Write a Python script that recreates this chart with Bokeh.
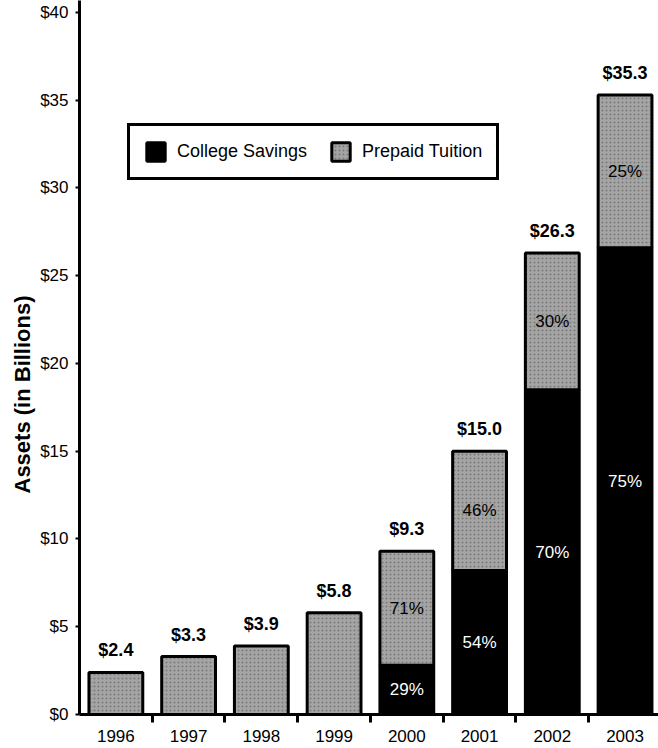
from bokeh.plotting import figure
from bokeh.models import (ColumnDataSource, FixedTicker, Legend, LegendItem, Range1d, Title)
from bokeh.core.properties import value
from bokeh.embed import file_html
from bokeh.resources import INLINE

# ---- data ----
years = ["1996", "1997", "1998", "1999", "2000", "2001", "2002", "2003"]
college_savings = [0.0, 0.0, 0.0, 0.0, 2.8, 8.2, 18.5, 26.6]
prepaid_tuition = [2.4, 3.3, 3.9, 5.8, 6.5, 6.8, 7.8, 8.7]
totals = [2.4, 3.3, 3.9, 5.8, 9.3, 15.0, 26.3, 35.3]
savings_pct = ["", "", "", "", "29%", "54%", "70%", "75%"]
prepaid_pct = ["", "", "", "", "71%", "46%", "30%", "25%"]
y_ticks = [0, 5, 10, 15, 20, 25, 30, 35, 40]
y_tick_labels = ["$0", "$5", "$10", "$15", "$20", "$25", "$30", "$35", "$40"]

FONT = "Liberation Sans"
GRAY = "#a5a5a5"

xs = list(range(1, len(years) + 1))
src = ColumnDataSource(dict(
    x=xs,
    sav_top=college_savings,
    pre_bottom=college_savings,
    pre_top=[s + p for s, p in zip(college_savings, prepaid_tuition)],
    sav_mid=[s / 2 for s in college_savings],
    pre_mid=[s + p / 2 for s, p in zip(college_savings, prepaid_tuition)],
    total=totals,
    total_lbl=["$%.1f" % t for t in totals],
    sav_pct=savings_pct,
    pre_pct=prepaid_pct,
))

p = figure(width=658, height=748, output_backend="svg", toolbar_location=None,
           title=None, x_range=Range1d(0.5, 8.46), y_range=Range1d(0, 40.68),
           min_border_left=79, min_border_right=0, min_border_top=0,
           min_border_bottom=34)
p.outline_line_color = None
p.xgrid.grid_line_color = None
p.ygrid.grid_line_color = None
p.background_fill_color = "white"
p.border_fill_color = "white"

BAR_W = 0.74
r_sav = p.vbar(x="x", bottom=0, top="sav_top", width=BAR_W, source=src,
               fill_color="black", line_color="black", line_width=3)
r_pre = p.vbar(x="x", bottom="pre_bottom", top="pre_top", width=BAR_W, source=src,
               fill_color=GRAY, line_color="black", line_width=3,
               hatch_pattern="dot", hatch_color="#5e5e5e", hatch_scale=4,
               hatch_weight=1, hatch_alpha=0.6)

p.text(x="x", y="total", text="total_lbl", source=src, text_align="center",
       text_baseline="middle", y_offset=-22, text_font=value(FONT),
       text_font_size="18px", text_font_style="bold", text_color="black")
p.text(x="x", y="sav_mid", text="sav_pct", source=src, text_align="center",
       text_baseline="middle", text_font=value(FONT), text_font_size="17px",
       text_color="white")
p.text(x="x", y="pre_mid", text="pre_pct", source=src, text_align="center",
       text_baseline="middle", text_font=value(FONT), text_font_size="17px",
       text_color="black")

# x axis: labels at category centres, ticks at boundaries
xa = p.xaxis[0]
xa.ticker = FixedTicker(ticks=xs, minor_ticks=[i + 0.5 for i in xs[:-1]] + [8.5])
xa.major_label_overrides = {x: y for x, y in zip(xs, years)}
xa.major_tick_line_color = None
xa.major_tick_out = 8
xa.major_tick_in = 0
xa.minor_tick_out = 8
xa.minor_tick_in = 0
xa.minor_tick_line_width = 3
xa.minor_tick_line_color = "black"
xa.axis_line_width = 3
xa.axis_line_color = "black"
xa.major_label_standoff = 7
xa.major_label_text_font = FONT
xa.major_label_text_font_size = "17px"
xa.major_label_text_color = "black"

ya = p.yaxis[0]
ya.ticker = FixedTicker(ticks=y_ticks, minor_ticks=[])
ya.major_label_overrides = {t: l for t, l in zip(y_ticks, y_tick_labels)}
ya.major_tick_out = 4
ya.major_tick_in = 0
ya.major_tick_line_width = 2
ya.minor_tick_line_color = None
ya.axis_line_width = 3
ya.axis_line_color = "black"
ya.major_label_standoff = 7
ya.major_label_text_font = FONT
ya.major_label_text_font_size = "17px"
ya.major_label_text_color = "black"

ytitle = Title(text="Assets (in Billions)", align="left", offset=221,
               text_font=FONT, text_font_size="22px", text_font_style="bold",
               text_color="black", standoff=6)
p.add_layout(ytitle, "left")

legend = Legend(items=[LegendItem(label="College Savings", renderers=[r_sav]),
                       LegendItem(label="Prepaid Tuition", renderers=[r_pre])],
                location=(48, 534), orientation="horizontal",
                border_line_color="black", border_line_width=3, border_line_alpha=1,
                background_fill_color="white", background_fill_alpha=1,
                padding=14, spacing=22, label_standoff=10,
                glyph_width=23, glyph_height=23,
                label_text_font=FONT, label_text_font_size="18px",
                label_text_color="black", margin=0)
p.add_layout(legend, "center")

open("out.html", "w").write(file_html(p, INLINE))
